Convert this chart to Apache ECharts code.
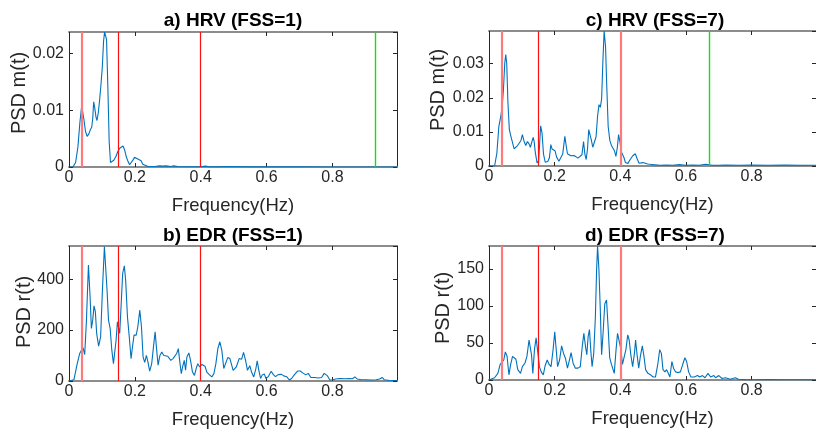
<!DOCTYPE html>
<html>
<head>
<meta charset="utf-8">
<script src="https://cdn.jsdelivr.net/npm/echarts@6/dist/echarts.min.js"></script>
<style>
  html, body { margin: 0; padding: 0; background: #ffffff; }
  #chart { width: 816px; height: 437px; }
</style>
</head>
<body>
<div id="chart"></div>
<script>
// Frequency axis (Hz)
const freqMax = 0.996;
const freqStep = 0.2;

// Band edges (VLF/LF, LF/HF, HF upper) and extra markers
const bandEdges = [0.04, 0.15, 0.4];
const hrv1Marker = 0.93;
const hrv7Marker = 0.667;

// a) HRV, FSS=1 : [frequency, PSD]
const hrv1 = [
  [0, 0], [0.012, 0], [0.02, 0.0008], [0.027, 0.0035], [0.033, 0.0078], [0.038, 0.0105],
  [0.041, 0.0099], [0.045, 0.0085], [0.05, 0.0063], [0.055, 0.0054], [0.06, 0.0058],
  [0.065, 0.0066], [0.069, 0.0070], [0.072, 0.0085], [0.075, 0.0115], [0.078, 0.0105],
  [0.082, 0.0088], [0.085, 0.0082], [0.089, 0.0096], [0.093, 0.0118], [0.097, 0.0145],
  [0.101, 0.0175], [0.105, 0.0222], [0.108, 0.0238], [0.111, 0.0238], [0.114, 0.0225],
  [0.118, 0.0140], [0.122, 0.0045], [0.126, 0.0008], [0.131, 0.0010], [0.136, 0.0012],
  [0.142, 0.0018], [0.148, 0.0027], [0.154, 0.0033], [0.159, 0.0036], [0.164, 0.0037],
  [0.169, 0.0030], [0.174, 0.0018], [0.179, 0.0010], [0.184, 0.0004], [0.189, 0.0004],
  [0.194, 0.0012], [0.199, 0.0017], [0.204, 0.0016], [0.209, 0.0014], [0.214, 0.0016],
  [0.219, 0.0011], [0.224, 0.0005], [0.23, 0.0002], [0.24, 0.0001], [0.26, 0.0001],
  [0.275, 0.0002], [0.285, 0.00015], [0.295, 0.0002], [0.31, 0.0001], [0.318, 0.0002],
  [0.33, 0.0001], [0.36, 0.00005], [0.4, 0.00005], [0.415, 0.00015], [0.425, 0.00005],
  [0.45, 0.00003], [0.48, 0.0001], [0.55, 0.00003], [0.6, 0.00002], [0.7, 0.00002],
  [0.8, 0.00001], [0.9, 0.00001], [0.996, 0]
];

// b) EDR, FSS=1
const edr1 = [
  [0, 0], [0.015, 5], [0.025, 68], [0.0325, 108], [0.0386, 123], [0.0426, 131], [0.0477, 104],
  [0.053, 239], [0.059, 455], [0.064, 331], [0.068, 206], [0.072, 239], [0.076, 295],
  [0.080, 272], [0.084, 187], [0.090, 137], [0.096, 173], [0.1015, 357], [0.1075, 528],
  [0.111, 530], [0.1155, 357], [0.120, 239], [0.125, 206], [0.130, 121], [0.135, 68],
  [0.139, 62], [0.143, 160], [0.147, 232], [0.151, 225], [0.154, 187], [0.158, 291],
  [0.163, 423], [0.168, 452], [0.172, 396], [0.1775, 252], [0.183, 173], [0.1885, 88],
  [0.194, 147], [0.1976, 180], [0.204, 180], [0.209, 213], [0.215, 278], [0.220, 213],
  [0.225, 94], [0.230, 73], [0.235, 101], [0.240, 73], [0.245, 39], [0.251, 67],
  [0.2565, 134], [0.2615, 193], [0.266, 125], [0.2705, 62], [0.276, 100], [0.2818, 114],
  [0.288, 100], [0.293, 103], [0.300, 97], [0.309, 81], [0.316, 88], [0.322, 94],
  [0.327, 108], [0.332, 127], [0.3365, 75], [0.341, 29], [0.345, 55], [0.350, 81],
  [0.354, 42], [0.358, 94], [0.364, 110], [0.369, 81], [0.375, 35], [0.381, 22],
  [0.386, 48], [0.391, 68], [0.397, 55], [0.4035, 65], [0.408, 68], [0.413, 58],
  [0.4185, 35], [0.426, 25], [0.4337, 16], [0.440, 29], [0.446, 68], [0.452, 127],
  [0.458, 154], [0.464, 121], [0.470, 49], [0.476, 49], [0.482, 92], [0.4885, 88],
  [0.4985, 42], [0.508, 55], [0.5167, 88], [0.524, 85], [0.530, 112], [0.536, 82],
  [0.542, 42], [0.549, 60], [0.5543, 35], [0.561, 16], [0.5675, 49], [0.5715, 79],
  [0.5765, 42], [0.5817, 10], [0.5868, 24], [0.593, 28], [0.598, 10], [0.605, 17],
  [0.614, 38], [0.620, 26], [0.627, 17], [0.635, 25], [0.645, 26], [0.652, 20],
  [0.661, 17], [0.669, 4], [0.676, 10], [0.684, 24], [0.694, 39], [0.702, 39],
  [0.711, 31], [0.719, 24], [0.7265, 30], [0.7345, 14], [0.747, 14], [0.757, 12],
  [0.767, 14], [0.775, 30], [0.780, 37], [0.785, 20], [0.792, 4], [0.800, 5],
  [0.810, 8], [0.822, 10], [0.838, 9], [0.851, 10], [0.861, 9], [0.868, 16],
  [0.875, 8], [0.888, 5], [0.903, 5], [0.918, 4], [0.933, 5], [0.943, 8],
  [0.951, 14], [0.957, 5], [0.970, 3], [0.985, 2], [0.996, 2]
];

// c) HRV, FSS=7
const hrv7 = [
  [0, 0], [0.017, 0], [0.024, 0.0038], [0.030, 0.0116], [0.036, 0.0146], [0.040, 0.0175],
  [0.044, 0.0224], [0.048, 0.0302], [0.051, 0.0327], [0.054, 0.0300], [0.0577, 0.0185],
  [0.062, 0.0107], [0.0667, 0.0087], [0.072, 0.0087], [0.0766, 0.0050], [0.082, 0.0053],
  [0.087, 0.0060], [0.092, 0.0060], [0.097, 0.0074], [0.1016, 0.0092], [0.107, 0.0072],
  [0.112, 0.0060], [0.117, 0.0072], [0.122, 0.0065], [0.126, 0.0055], [0.131, 0.0072],
  [0.1345, 0.0084], [0.1375, 0.0072], [0.141, 0.0040], [0.1464, 0.0009], [0.151, 0.0015],
  [0.154, 0.0060], [0.1573, 0.0118], [0.1615, 0.0097], [0.166, 0.0035], [0.1713, 0.0011],
  [0.179, 0.0013], [0.184, 0.0024], [0.1883, 0.0063], [0.192, 0.0050], [0.196, 0.0050],
  [0.201, 0.0045], [0.206, 0.0026], [0.213, 0.0014], [0.219, 0.0019], [0.2245, 0.0035],
  [0.231, 0.0087], [0.235, 0.0060], [0.239, 0.0036], [0.245, 0.0040], [0.249, 0.0030],
  [0.253, 0.0026], [0.259, 0.0031], [0.265, 0.0028], [0.271, 0.0023], [0.277, 0.0019],
  [0.283, 0.0033], [0.288, 0.0072], [0.292, 0.0035], [0.296, 0.0019], [0.300, 0.0050],
  [0.3038, 0.0107], [0.308, 0.0110], [0.312, 0.0075], [0.316, 0.0055], [0.321, 0.0060],
  [0.326, 0.0085], [0.3307, 0.0146], [0.335, 0.0180], [0.339, 0.0172], [0.343, 0.0196],
  [0.3467, 0.0302], [0.3507, 0.0396], [0.355, 0.0350], [0.3587, 0.0234], [0.363, 0.0116],
  [0.368, 0.0075], [0.373, 0.0060], [0.378, 0.0055], [0.382, 0.0045], [0.3866, 0.0028],
  [0.391, 0.0055], [0.3946, 0.0092], [0.399, 0.0070], [0.403, 0.0042], [0.407, 0.0038],
  [0.411, 0.0025], [0.4156, 0.0010], [0.4226, 0.0007], [0.430, 0.0019], [0.438, 0.0030],
  [0.4455, 0.0036], [0.451, 0.0022], [0.457, 0.0008], [0.463, 0.0005], [0.469, 0.0010],
  [0.476, 0.0008], [0.483, 0.0006], [0.491, 0.0005], [0.500, 0.0004], [0.520, 0.0002],
  [0.540, 0.0003], [0.560, 0.0002], [0.580, 0.0004], [0.600, 0.0002], [0.620, 0.0003],
  [0.640, 0.0002], [0.660, 0.0005], [0.680, 0.0002], [0.700, 0.0002], [0.720, 0.0003],
  [0.760, 0.0002], [0.800, 0.0003], [0.850, 0.0002], [0.900, 0.0003], [0.950, 0.0002],
  [0.996, 0.0002]
];

// d) EDR, FSS=7
const edr7 = [
  [0, 0], [0.017, 3], [0.027, 9], [0.034, 21], [0.040, 23], [0.045, 27], [0.0497, 38],
  [0.055, 32], [0.0607, 7], [0.066, 21], [0.0717, 32], [0.077, 34], [0.082, 28],
  [0.0877, 14], [0.096, 9], [0.1016, 18], [0.1096, 23], [0.1155, 32], [0.122, 54],
  [0.1255, 56], [0.1295, 34], [0.1335, 9], [0.1385, 41], [0.1435, 57], [0.149, 36],
  [0.1535, 18], [0.159, 11], [0.1654, 7], [0.1713, 20], [0.1773, 27], [0.1833, 21],
  [0.189, 18], [0.1952, 41], [0.2003, 65], [0.204, 45], [0.209, 18], [0.215, 27],
  [0.2212, 46], [0.227, 36], [0.233, 29], [0.239, 16], [0.245, 27], [0.250, 37],
  [0.256, 23], [0.263, 16], [0.271, 16], [0.278, 18], [0.284, 45], [0.2889, 63],
  [0.294, 45], [0.298, 34], [0.302, 59], [0.306, 68], [0.310, 40], [0.314, 18],
  [0.319, 36], [0.324, 85], [0.3277, 148], [0.3307, 181], [0.3347, 150], [0.3387, 99],
  [0.343, 34], [0.347, 60], [0.3527, 103], [0.358, 108], [0.363, 70], [0.3677, 30],
  [0.373, 21], [0.377, 23], [0.3815, 9], [0.387, 41], [0.3915, 63], [0.397, 61],
  [0.402, 41], [0.4065, 21], [0.412, 21], [0.417, 41], [0.4225, 61], [0.427, 54],
  [0.432, 34], [0.4375, 18], [0.443, 36], [0.4465, 54], [0.451, 34], [0.456, 16],
  [0.461, 32], [0.467, 46], [0.472, 32], [0.477, 14], [0.484, 9], [0.492, 7],
  [0.500, 4], [0.507, 4], [0.514, 21], [0.520, 41], [0.525, 36], [0.530, 14],
  [0.536, 11], [0.541, 14], [0.546, 9], [0.551, 4], [0.557, 25], [0.562, 16],
  [0.568, 11], [0.575, 10], [0.583, 11], [0.590, 21], [0.5967, 30], [0.602, 25],
  [0.608, 11], [0.615, 4], [0.625, 4], [0.635, 6], [0.642, 4], [0.650, 6],
  [0.658, 3], [0.667, 9], [0.675, 4], [0.685, 6], [0.690, 3], [0.700, 6],
  [0.710, 2], [0.720, 3], [0.735, 1], [0.750, 3], [0.760, 1], [0.780, 0.5],
  [0.800, 0.3], [0.850, 0.5], [0.900, 0.3], [0.950, 0.3], [0.996, 0.2]
];

const FONT = '"Liberation Sans", Arial, Helvetica, sans-serif';
const INK = '#262626';
const FRAME_GRAY = '#8c8c8c';
const TRACE = '#0072BD';

const softRed = { color: '#ff7a7a', width: 2.2, type: 'solid' };
const hardRed = { color: '#ff1010', width: 1.2, type: 'solid' };
const green = { color: '#10e010', width: 1.4, type: 'solid' };

const panels = [
  {
    title: 'a) HRV (FSS=1)', yName: 'PSD m(t)', data: hrv1, yMax: 0.0238, yStep: 0.01,
    grid: { left: 69, top: 32, width: 328, height: 135 },
    titlePos: [233, 21], namePos: [19, 93],
    marks: [[bandEdges[0], softRed], [bandEdges[1], hardRed], [bandEdges[2], hardRed], [hrv1Marker, green]]
  },
  {
    title: 'b) EDR (FSS=1)', yName: 'PSD r(t)', data: edr1, yMax: 530, yStep: 200,
    grid: { left: 69, top: 246, width: 328, height: 135 },
    titlePos: [233, 236], namePos: [24, 312],
    marks: [[bandEdges[0], softRed], [bandEdges[1], hardRed], [bandEdges[2], hardRed]]
  },
  {
    title: 'c) HRV (FSS=7)', yName: 'PSD m(t)', data: hrv7, yMax: 0.0396, yStep: 0.01,
    grid: { left: 489, top: 31, width: 334, height: 135 },
    titlePos: [655, 21], namePos: [438, 90],
    marks: [[bandEdges[0], softRed], [bandEdges[1], hardRed], [bandEdges[2], softRed], [hrv7Marker, green]]
  },
  {
    title: 'd) EDR (FSS=7)', yName: 'PSD r(t)', data: edr7, yMax: 181, yStep: 50,
    grid: { left: 489, top: 246, width: 334, height: 134 },
    titlePos: [655, 236], namePos: [443, 308],
    marks: [[bandEdges[0], softRed], [bandEdges[1], hardRed], [bandEdges[2], softRed]]
  }
];

// Only label values that sit on the regular tick step
function stepLabel(step) {
  return function (v) {
    const r = v / step;
    if (Math.abs(r - Math.round(r)) > 1e-6) return '';
    return String(parseFloat(v.toFixed(6)));
  };
}

const grids = [], xAxes = [], yAxes = [], series = [], graphics = [];

panels.forEach(function (p, i) {
  grids.push(Object.assign({ containLabel: false }, p.grid));

  const tickStyle = { show: true, inside: true, length: 4, lineStyle: { color: INK, width: 1 } };

  xAxes.push({
    type: 'value', gridIndex: i, position: 'bottom', min: 0, max: freqMax, interval: freqStep,
    axisLine: { show: true, onZero: false, lineStyle: { color: FRAME_GRAY, width: 2 } },
    axisTick: tickStyle,
    axisLabel: { show: true, margin: 3, fontFamily: FONT, fontSize: 16, color: INK,
                 showMaxLabel: false, formatter: stepLabel(freqStep) },
    splitLine: { show: false },
    name: 'Frequency(Hz)', nameLocation: 'middle', nameGap: 30,
    nameTextStyle: { fontFamily: FONT, fontSize: 18.5, color: INK, lineHeight: 18 }
  });
  xAxes.push({
    type: 'value', gridIndex: i, position: 'top', min: 0, max: freqMax, interval: freqStep,
    axisLine: { show: true, onZero: false, lineStyle: { color: FRAME_GRAY, width: 2 } },
    axisTick: tickStyle, axisLabel: { show: false }, splitLine: { show: false }
  });
  yAxes.push({
    type: 'value', gridIndex: i, position: 'left', min: 0, max: p.yMax, interval: p.yStep,
    axisLine: { show: true, onZero: false, lineStyle: { color: INK, width: 1 } },
    axisTick: tickStyle,
    axisLabel: { show: true, margin: 5, fontFamily: FONT, fontSize: 16, color: INK,
                 showMaxLabel: false, formatter: stepLabel(p.yStep) },
    splitLine: { show: false }
  });
  yAxes.push({
    type: 'value', gridIndex: i, position: 'right', min: 0, max: p.yMax, interval: p.yStep,
    axisLine: { show: true, onZero: false, lineStyle: { color: INK, width: 1 } },
    axisTick: tickStyle, axisLabel: { show: false }, splitLine: { show: false }
  });

  series.push({
    type: 'line', xAxisIndex: 2 * i, yAxisIndex: 2 * i, data: p.data,
    showSymbol: false, symbol: 'none', clip: true,
    lineStyle: { color: TRACE, width: 1.1 },
    markLine: {
      silent: true, symbol: ['none', 'none'], label: { show: false },
      animation: false,
      data: p.marks.map(function (m) { return { xAxis: m[0], lineStyle: m[1] }; })
    },
    z: 3
  });

  graphics.push({
    type: 'text', x: p.titlePos[0], y: p.titlePos[1],
    style: { text: p.title, font: 'bold 19px ' + FONT, fill: '#000000',
             textAlign: 'center', textVerticalAlign: 'middle', align: 'center', verticalAlign: 'middle' }
  });
  graphics.push({
    type: 'text', x: p.namePos[0], y: p.namePos[1], rotation: Math.PI / 2,
    style: { text: p.yName, font: '20px ' + FONT, fill: INK,
             textAlign: 'center', textVerticalAlign: 'middle', align: 'center', verticalAlign: 'middle' }
  });
});

const chart = echarts.init(document.getElementById('chart'), null, { renderer: 'canvas' });
chart.setOption({
  animation: false,
  backgroundColor: '#ffffff',
  grid: grids,
  xAxis: xAxes,
  yAxis: yAxes,
  series: series,
  graphic: graphics
});
</script>
</body>
</html>
